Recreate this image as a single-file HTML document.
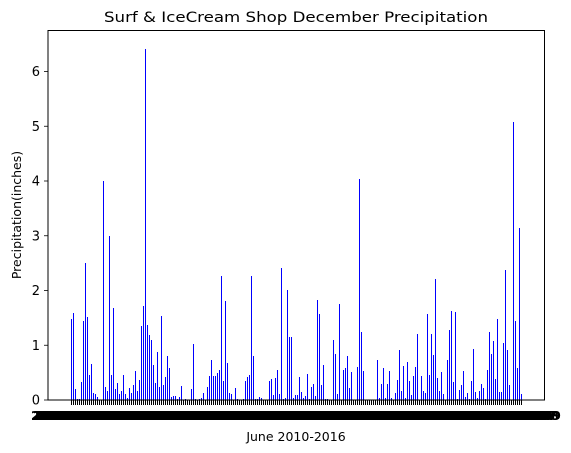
<!DOCTYPE html>
<html><head><meta charset="utf-8"><style>
body{margin:0;background:#fff;width:571px;height:453px;overflow:hidden}
svg{display:block;font-family:"DejaVu Sans","Liberation Sans",sans-serif}
</style></head><body>
<svg id="chart" width="571" height="453">
<text x="296" y="22" text-anchor="middle" font-size="14.5" textLength="384" lengthAdjust="spacingAndGlyphs">Surf &amp; IceCream Shop December Precipitation</text>
<text transform="translate(21,215) rotate(-90)" text-anchor="middle" font-size="12.5">Precipitation(inches)</text>
<text x="296" y="441" text-anchor="middle" font-size="12.5">June 2010-2016</text>
<g id="bars" shape-rendering="crispEdges"></g>
<g id="xticks"></g>
<g id="yticks"></g>
<rect x="48" y="30.5" width="496.5" height="369.5" fill="none" stroke="#000" stroke-width="1"/>
</svg>
<script>
const values = [1.48,1.59,0.2,0.02,0.02,0.33,1.45,2.5,1.52,0.46,0.66,0.13,0.11,0.05,0,0,4.0,0.24,0.16,3.0,0.46,1.68,0.2,0.31,0.11,0.16,0.46,0.11,0.04,0.22,0.13,0.27,0.53,0.16,0.37,1.35,1.72,6.42,1.37,1.19,1.1,0.64,0.31,0.88,0.24,1.54,0.27,0.42,0.8,0.59,0.05,0.07,0.07,0.02,0.05,0.26,0,0.02,0,0,0.2,1.02,0.02,0,0.02,0.04,0.13,
0,0.24,0.44,0.73,0.44,0.44,0.49,0.55,2.27,0.35,1.81,0.68,0.13,0.11,0,0.22,0.02,0,0,0.02,0.35,0.42,0.46,2.27,0.8,0.02,0.02,0.05,0.04,0,0,0,0.35,0.38,0.09,0.4,0.55,0.11,2.41,0.02,0.04,2.01,1.15,1.15,0.04,0.09,0.09,0.42,0.15,0.04,0.07,0.48,0.02,0.24,0.29,0.07,1.83,1.57,0.27,0.64,0.02,0.02,0,0,1.1,0.84,0.11,1.76,0,0.55,0.59,0.8,0.22,0.51,0,0,0.6,4.04,1.24,0.53,0,0,0,0,0,0,0.73,
0.04,0.29,0.59,0.04,0.29,0.53,0.04,0,0.13,0.37,0.91,0.16,0.62,0.04,0.7,0.35,0.09,0.44,0.6,1.21,0,0.44,0.16,0.13,1.57,0.46,1.21,0.82,2.21,0.4,0.16,0.51,0.11,0,0.73,1.28,1.63,0.33,1.61,0.02,0.18,0.27,0.53,0.05,0.13,0.02,0.35,0.93,0.15,0.04,0.16,0.29,0.22,0.02,0.55,1.24,0.84,1.08,0.38,1.48,0.15,0.15,1.04,2.38,0.91,0.27,0,5.07,1.45,0.59,3.15,0.11];
const yTicks = [0,1,2,3,4,5,6];
const startYear = 2010;

const NS="http://www.w3.org/2000/svg";
const x0=71, x1=521, yBase=400, pxPerUnit=54.75;
const n=values.length;
const step=(x1-x0)/(n-1);
const xs=i=>Math.round(x0+i*step);
const ys=v=>yBase-v*pxPerUnit;
const bars=document.getElementById('bars');
const xt=document.getElementById('xticks');
values.forEach((v,i)=>{
  const r=document.createElementNS(NS,'rect');
  r.setAttribute('x',xs(i));
  r.setAttribute('y',Math.round(ys(v)));
  r.setAttribute('width',1);
  r.setAttribute('height',Math.max(0,yBase-Math.round(ys(v))));
  r.setAttribute('fill','#0000ff');
  
  
  bars.appendChild(r);
  const t=document.createElementNS(NS,'rect');
  t.setAttribute('x',xs(i));t.setAttribute('y',400);
  t.setAttribute('width',1);t.setAttribute('height',5);
  t.setAttribute('fill','#000');
  t.setAttribute('shape-rendering','crispEdges');
  
  
  xt.appendChild(t);
  const l=document.createElementNS(NS,'text');
  l.setAttribute('x',xs(i));l.setAttribute('y',420);
  l.setAttribute('text-anchor','middle');l.setAttribute('font-size','12');
  l.setAttribute('font-weight','bold');
  l.setAttribute('textLength','80');l.setAttribute('lengthAdjust','spacingAndGlyphs');
  const yr=startYear+Math.floor(i/32)%7, d=(i%31)+1;
  l.textContent=yr+'-12-'+String(d).padStart(2,'0');
  
  
  xt.appendChild(l);
});
const yt=document.getElementById('yticks');
yTicks.forEach(v=>{
  const t=document.createElementNS(NS,'line');
  t.setAttribute('x1',44);t.setAttribute('x2',48);
  t.setAttribute('y1',ys(v));t.setAttribute('y2',ys(v));
  t.setAttribute('stroke','#000');t.setAttribute('stroke-width','0.8');
  
  
  yt.appendChild(t);
  const l=document.createElementNS(NS,'text');
  l.setAttribute('x',40);l.setAttribute('y',ys(v)+4.5);
  l.setAttribute('text-anchor','end');l.setAttribute('font-size','13');
  l.textContent=String(v);
  
  
  yt.appendChild(l);
});
</script>
</body></html>
